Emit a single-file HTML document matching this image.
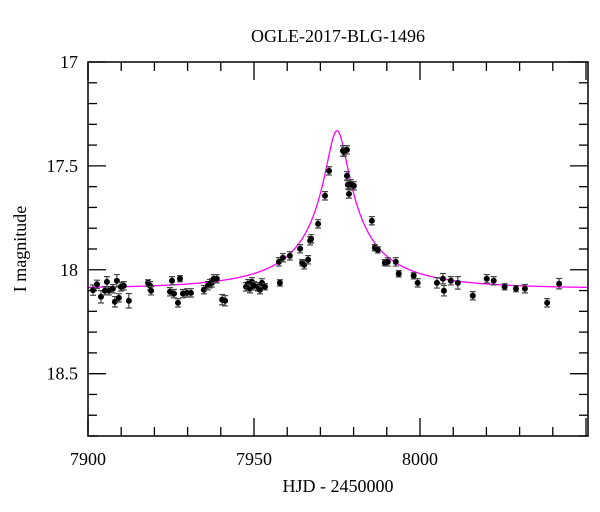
<!DOCTYPE html>
<html><head><meta charset="utf-8"><style>
body{margin:0;background:#fff}
svg{display:block;font-family:"Liberation Serif",serif}
</style></head><body>
<svg id="chart" width="600" height="512" viewBox="0 0 600 512">
<text x="338" y="42" text-anchor="middle" font-size="18">OGLE-2017-BLG-1496</text>
<text x="338" y="492" text-anchor="middle" font-size="18">HJD - 2450000</text>
<text transform="translate(26,249) rotate(-90)" text-anchor="middle" font-size="18">I magnitude</text>
<g id="axes"></g><g id="model"></g><g id="points"></g>
<rect x="88" y="62" width="500" height="374" fill="none" stroke="#000" stroke-width="1.5"/>
</svg>
<script>
const times=[7901.5,7902.7,7903.9,7905.1,7905.7,7906.3,7907.5,7908.1,7908.7,7909.3,7909.9,7910.8,7912.3,7918.1,7918.7,7919.0,7924.7,7925.3,7925.9,7927.1,7927.7,7928.6,7929.8,7931.0,7934.9,7936.1,7936.7,7937.3,7937.9,7938.8,7940.4,7941.3,7947.6,7948.2,7948.8,7949.4,7950.0,7951.2,7951.8,7952.4,7953.3,7957.5,7957.8,7958.7,7960.8,7963.9,7964.5,7965.1,7966.3,7966.9,7967.2,7969.3,7971.4,7972.6,7976.8,7977.1,7978.0,7978.0,7978.3,7978.6,7979.2,7980.1,7985.5,7986.4,7987.3,7989.4,7990.3,7992.7,7993.6,7998.1,7999.3,8005.1,8006.9,8007.2,8009.3,8011.4,8015.9,8020.1,8022.2,8025.5,8028.9,8031.6,8038.3,8041.9];
const mags=[18.098,18.07,18.130,18.101,18.058,18.101,18.091,18.154,18.053,18.135,18.082,18.077,18.149,18.063,18.077,18.101,18.106,18.053,18.115,18.159,18.043,18.115,18.111,18.111,18.096,18.077,18.067,18.063,18.043,18.043,18.144,18.149,18.082,18.067,18.091,18.058,18.077,18.082,18.096,18.063,18.082,17.962,18.063,17.942,17.933,17.899,17.966,17.976,17.952,17.861,17.851,17.779,17.644,17.524,17.428,17.433,17.423,17.548,17.591,17.635,17.587,17.596,17.764,17.894,17.904,17.966,17.962,17.962,18.019,18.029,18.063,18.063,18.043,18.101,18.053,18.063,18.125,18.043,18.053,18.082,18.091,18.091,18.159,18.067,18.043,18.120];
const errs=[0.025,0.02,0.03,0.02,0.025,0.02,0.02,0.025,0.03,0.02,0.02,0.02,0.035,0.015,0.02,0.02,0.02,0.02,0.02,0.02,0.015,0.02,0.02,0.02,0.02,0.02,0.02,0.02,0.02,0.02,0.025,0.025,0.02,0.02,0.02,0.02,0.02,0.02,0.02,0.02,0.015,0.02,0.015,0.02,0.02,0.02,0.015,0.02,0.02,0.02,0.02,0.02,0.02,0.02,0.025,0.02,0.02,0.02,0.02,0.02,0.02,0.02,0.02,0.015,0.015,0.015,0.02,0.02,0.015,0.015,0.02,0.025,0.025,0.025,0.02,0.03,0.02,0.02,0.02,0.015,0.015,0.02,0.02,0.025];
const xTickLabels=[7900,7950,8000];
const yTickLabels=[17,17.5,18,18.5];
const modelParams=[7975.0,34,0.1,0.112,18.09]; // t0,tE,u0,fs,baseline
const X0=88,X1=588,Y0=62,Y1=436,TMIN=7900,TMAX=8050.6,MMIN=17,MMAX=18.8;
const xs=t=>X0+(t-TMIN)/(TMAX-TMIN)*(X1-X0);
const ys=m=>Y0+(m-MMIN)/(MMAX-MMIN)*(Y1-Y0);
const NS='http://www.w3.org/2000/svg';
function mk(tag,at,parent){const e=document.createElementNS(NS,tag);for(const k in at)e.setAttribute(k,at[k]);parent.appendChild(e);return e;}
const axes=document.getElementById('axes');
for(let t=7900;t<=8050;t+=10){const x=xs(t);const major=t%50===0;const L=major?18:9;
 const a=mk('line',{x1:x,y1:Y1,x2:x,y2:Y1-L,stroke:'#000','stroke-width':1.3},axes);
 
 
 const b=mk('line',{x1:x,y1:Y0,x2:x,y2:Y0+L,stroke:'#000','stroke-width':1.3},axes);
 
 }
xTickLabels.forEach(v=>{const tx=mk('text',{x:xs(v),y:465,'text-anchor':'middle','font-size':18},axes);tx.textContent=v;
 
 });
for(let i=0;i<=18;i++){const m=17+i*0.1;const y=ys(m);const major=i%5===0;const L=major?18:9;
 const a=mk('line',{x1:X0,y1:y,x2:X0+L,y2:y,stroke:'#000','stroke-width':1.3},axes);
 
 
 const b=mk('line',{x1:X1,y1:y,x2:X1-L,y2:y,stroke:'#000','stroke-width':1.3},axes);
 
 }
yTickLabels.forEach(v=>{const tx=mk('text',{x:78,y:ys(v)+6,'text-anchor':'end','font-size':18},axes);tx.textContent=v;
 
 });
const [t0,tE,u0,fs,base]=modelParams;
let d='';for(let t=TMIN;t<=TMAX;t+=0.1){const u=Math.sqrt(u0*u0+((t-t0)/tE)**2);const A=(u*u+2)/(u*Math.sqrt(u*u+4));const m=base-2.5*Math.log10(1+fs*(A-1));d+=(d?'L':'M')+xs(t).toFixed(2)+' '+ys(m).toFixed(2);}
const path=mk('path',{d:d,fill:'none',stroke:'#ff00ff','stroke-width':1.3},document.getElementById('model'));


const pts=document.getElementById('points');
times.forEach((t,i)=>{const x=xs(t),y=ys(mags[i]),e=ys(mags[i]+errs[i])-y;
 const g=mk('g',{},pts);
 
 
 mk('path',{d:`M${x} ${y-e}V${y+e}M${x-3} ${y-e}H${x+3}M${x-3} ${y+e}H${x+3}`,stroke:'#444','stroke-width':1.2,fill:'none'},g);
 mk('circle',{cx:x,cy:y,r:3,fill:'#000'},g);});
</script>
</body></html>
